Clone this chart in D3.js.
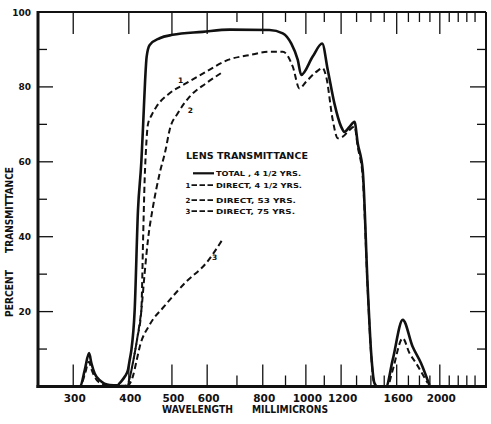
<!DOCTYPE html>
<html><head><meta charset="utf-8">
<script src="https://cdn.jsdelivr.net/npm/d3@7"></script>
<style>
body{margin:0;background:#fff}
svg{display:block}
text{font-family:"DejaVu Sans",sans-serif;font-weight:bold;fill:#111}
</style>
</head><body>
<svg id="c" width="491" height="424"></svg>
<script>
// ---- data (wavelength in millimicrons, percent transmittance) ----
const labeledTicks = [300,400,500,600,800,1000,1200,1600,2000];
const minorTicks = [700,900,1100,1300,1400,1500,1700,1800,1900,2100,2200,2300,2400];
const yMajorTicks = [20,40,60,80];
const yMinorTicks = [10,30,50,70,90];
const yLabels = [20,40,60,80,100];

const totalSeries = [[305,0],[311,0],[318.4,4.4],[325.6,8.9],[329.6,6.2],[335.2,3.5],[344,1.7],[362.4,0.4],[377.6,0.3],[381.5,0.9],[391.5,2.6],[398.2,4.4],[401.8,7.1],[405.3,9.7],[412.3,20.4],[419.4,47],[426.8,60],[430.8,70],[435.3,82],[438.6,88],[445.6,91.2],[469.2,93],[501.7,93.9],[586.1,94.7],[673.8,95.3],[828.4,95.2],[887.4,94.3],[926.8,91.6],[958.9,87.2],[976.1,83.2],[1036,88.1],[1088,91.6],[1120,84.5],[1159,75.6],[1200,69.4],[1221,68.0],[1253,69.3],[1286,70.7],[1308,64.9],[1342,57.8],[1377,26.6],[1402,8.9],[1426,0.9],[1448,0],[1514,0],[1567,7.1],[1651,17.8],[1738,10.6],[1815,6.2],[1895,0.4]];

const direct45Series = [[305,0],[311,0],[318.4,3.2],[325.6,6.6],[329.6,4.6],[335.2,2.6],[344,1.0],[362.4,0.2],[392,0.2],[400,1.5],[408,6],[418,13],[426.8,20.4],[430.8,40],[434.1,55],[437.5,64],[441.6,70],[450.2,72.5],[461.3,74.7],[494,78.3],[538.6,81],[597.3,84.1],[667.9,87.2],[747.1,88.5],[828.4,89.4],[887.4,89.4],[934.5,85.4],[967.4,79.6],[1001.6,81.4],[1055,84],[1091,85],[1111,82.7],[1149,71.2],[1179,66.3],[1210,66.7],[1253,68.5],[1286,69.4],[1308,64],[1342,56],[1377,26],[1402,8.5],[1426,0.5],[1448,0],[1525,0],[1564,4],[1651,12.9],[1708,9],[1769,6.2],[1878,0.9]];

const direct53Series = [[398,0],[408,6],[418,13],[426.8,20.4],[434.1,30.2],[441.6,39.1],[453.3,48],[469.2,56.9],[483.9,63.2],[494,68.5],[515.7,73],[548,77.4],[597.3,81],[650.8,84]];

const direct75Series = [[398,0],[408,2.5],[416.6,7],[423,10.5],[445.6,16.5],[481.3,21.5],[538.6,28],[597.3,33],[649.9,39.3]];

const curveLabels = [["1",522.9,81],["2",549.9,73],["3",623.5,33.8]];
const legendTitle = "LENS TRANSMITTANCE";
const legendRows = [["","TOTAL , 4 1/2 YRS.",false],["1","DIRECT, 4 1/2 YRS.",true],["2","DIRECT, 53 YRS.",true],["3","DIRECT, 75 YRS.",true]];

// ---- layout ----
const L = 38, R = 486, T = 12, B = 386.5;
const svg = d3.select("#c");
const x = d3.scaleLog().domain([250, 2540]).range([L, R]);
const y = d3.scaleLinear().domain([0, 100]).range([B, T]);

// ticks bottom (pointing up) and top (pointing down)
const tickG = svg.append("g").attr("stroke","#111").attr("stroke-width",1.3);
labeledTicks.forEach(v=>{
  tickG.append("line").attr("x1",x(v)).attr("x2",x(v)).attr("y1",B).attr("y2",B-22);
  tickG.append("line").attr("x1",x(v)).attr("x2",x(v)).attr("y1",T).attr("y2",T+22);
});
minorTicks.forEach(v=>{
  tickG.append("line").attr("x1",x(v)).attr("x2",x(v)).attr("y1",B).attr("y2",B-11);
  tickG.append("line").attr("x1",x(v)).attr("x2",x(v)).attr("y1",T).attr("y2",T+10);
});
yMajorTicks.forEach(v=>{
  tickG.append("line").attr("x1",L).attr("x2",L+15).attr("y1",y(v)).attr("y2",y(v));
  tickG.append("line").attr("x1",R).attr("x2",R-16).attr("y1",y(v)).attr("y2",y(v));
});
yMinorTicks.forEach(v=>{
  tickG.append("line").attr("x1",L).attr("x2",L+9).attr("y1",y(v)).attr("y2",y(v));
  tickG.append("line").attr("x1",R).attr("x2",R-9).attr("y1",y(v)).attr("y2",y(v));
});

// frame
svg.append("line").attr("x1",L).attr("x2",R).attr("y1",T).attr("y2",T).attr("stroke","#111").attr("stroke-width",2);
svg.append("line").attr("x1",R).attr("x2",R).attr("y1",T).attr("y2",B).attr("stroke","#111").attr("stroke-width",2);
svg.append("line").attr("x1",L).attr("x2",L).attr("y1",T-1).attr("y2",B+1.5).attr("stroke","#111").attr("stroke-width",3);
svg.append("line").attr("x1",L-1.5).attr("x2",R+1).attr("y1",B).attr("y2",B).attr("stroke","#111").attr("stroke-width",3);

// tick labels
svg.append("g").selectAll("text").data(labeledTicks).join("text")
  .attr("x",d=>x(d)+1.5).attr("y",402).attr("text-anchor","middle")
  .attr("font-size","10.5px").text(d=>d);
svg.append("g").selectAll("text").data(yLabels).join("text")
  .attr("x",31).attr("y",d=>y(d)+3.5).attr("text-anchor","end")
  .attr("font-size","9px").text(d=>d);

// axis titles
svg.append("text").attr("x",162).attr("y",413).attr("font-size","9.6px")
  .attr("textLength",71).attr("lengthAdjust","spacingAndGlyphs").text("WAVELENGTH");
svg.append("text").attr("x",252).attr("y",413).attr("font-size","9.6px")
  .attr("textLength",76).attr("lengthAdjust","spacingAndGlyphs").text("MILLIMICRONS");
svg.append("text").attr("transform","translate(13.3,317) rotate(-90)").attr("font-size","10.5px")
  .attr("textLength",47).attr("lengthAdjust","spacingAndGlyphs").text("PERCENT");
svg.append("text").attr("transform","translate(13.3,253) rotate(-90)").attr("font-size","10.5px")
  .attr("textLength",86).attr("lengthAdjust","spacingAndGlyphs").text("TRANSMITTANCE");

// curves
const line = d3.line().x(d=>x(d[0])).y(d=>y(d[1])).curve(d3.curveMonotoneX);
const cg = svg.append("g").attr("fill","none").attr("stroke","#111").attr("stroke-linejoin","round");
cg.append("path").attr("d",line(direct45Series)).attr("stroke-width",2).attr("stroke-dasharray","6,3.5");
cg.append("path").attr("d",line(direct53Series)).attr("stroke-width",2).attr("stroke-dasharray","6,3.5");
cg.append("path").attr("d",line(direct75Series)).attr("stroke-width",2).attr("stroke-dasharray","6,3.5");
cg.append("path").attr("d",line(totalSeries)).attr("stroke-width",2.6);

// curve labels
svg.append("g").selectAll("text").data(curveLabels).join("text")
  .attr("x",d=>x(d[1])).attr("y",d=>y(d[2])).attr("text-anchor","middle")
  .attr("font-size","7.5px").text(d=>d[0]);

// legend
const lg = svg.append("g");
lg.append("text").attr("x",186).attr("y",158.5).attr("font-size","9.5px")
  .attr("textLength",122).attr("lengthAdjust","spacingAndGlyphs").text(legendTitle);
const rowY = [175.7,187.5,202.5,213.5];
const rowLen = [85,86,80,79];
legendRows.forEach((r,i)=>{
  const yy = rowY[i];
  if (r[0]) lg.append("text").attr("x",188).attr("y",yy).attr("text-anchor","middle").attr("font-size","7px").text(r[0]);
  lg.append("line").attr("x1",r[2]?191.5:193).attr("x2",214).attr("y1",yy-2.4).attr("y2",yy-2.4)
    .attr("stroke","#111").attr("stroke-width",r[2]?1.8:2.2).attr("stroke-dasharray",r[2]?"5.5,2.5":null);
  lg.append("text").attr("x",216).attr("y",yy).attr("font-size","6.8px")
    .attr("textLength",rowLen[i]).attr("lengthAdjust","spacingAndGlyphs").text(r[1]);
});
</script>
</body></html>
